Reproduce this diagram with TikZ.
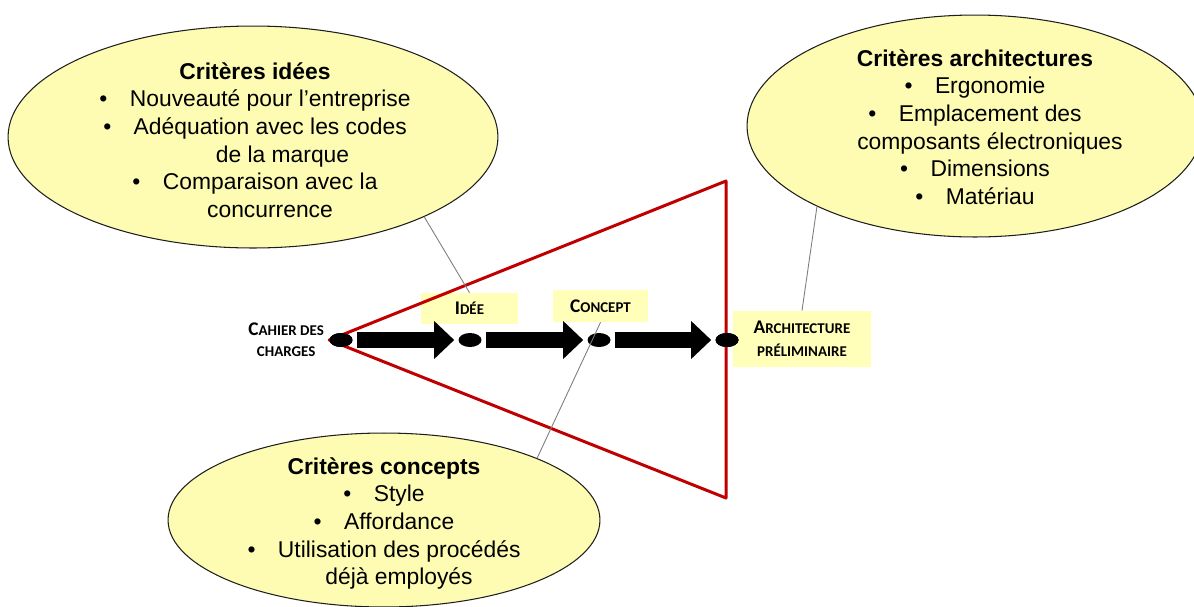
\documentclass[tikz,border=0pt]{standalone}
\usepackage{fontspec}
\setmainfont{Liberation Sans}
\newfontfamily\lblfont{Carlito}
\usepackage{xcolor}
\usepackage{tikz}
\usetikzlibrary{shapes.geometric, arrows.meta, positioning}
\definecolor{myred}{RGB}{192,0,0}
\definecolor{mydark}{RGB}{30,30,30}
\definecolor{mygray}{RGB}{125,125,125}
\definecolor{hdryellow}{RGB}{253,252,178}
\definecolor{boxyellow}{RGB}{255,255,186}
\newcommand{\itm}{\textbullet\hspace{0.45cm}}
\newcommand{\scC}[1]{{\fontsize{11}{13}\selectfont #1}}
\newcommand{\scS}[1]{{\fontsize{8.5}{13}\selectfont #1}}
\tikzset{
  critere/.style={ellipse, draw=mydark, fill=hdryellow, line width=0.6pt,
    inner sep=0pt},
  crittext/.style={align=center, inner sep=0pt,
    font=\fontsize{13}{15.7}\selectfont},
  etape/.style={rectangle, fill=boxyellow, inner sep=0pt, align=center,
    font=\lblfont\bfseries},
  jalontext/.style={inner sep=0pt, align=center, font=\lblfont\bfseries},
  jalon/.style={ellipse, fill=black, minimum width=0.46cm,
    minimum height=0.28cm, inner sep=0pt},
  bigarrow/.style={line width=0.32cm,
    -{Triangle[length=0.4cm, width=0.76cm, line width=0pt]},
    shorten <=0.08cm, shorten >=0.08cm},
  callout/.style={draw=mygray, line width=0.5pt},
  entonnoir/.style={draw=myred, line width=1.7pt, line join=round}
}

\begin{document}
\begin{tikzpicture}[x=0.02cm, y=-0.02cm]
  \useasboundingbox (0,0) rectangle (1194,606);

  % Criteria ellipses
  \node[critere, minimum width=9.8cm, minimum height=4.44cm] (eIdees) at (253,137) {};
  \node[crittext] (tIdees) at (255,140) {\textbf{Critères idées}\\
    \itm Nouveauté pour l'entreprise\\
    \itm Adéquation avec les codes\\
    \hspace*{1.1cm}de la marque\\
    \itm Comparaison avec la\\
    \hspace*{0.6cm}concurrence};

  \node[critere, minimum width=9.12cm, minimum height=4.44cm] (eArch) at (975,126) {};
  \node[crittext] (tArch) at (975,127) {\textbf{Critères architectures}\\
    \itm Ergonomie\\
    \itm Emplacement des\\
    \hspace*{0.6cm}composants électroniques\\
    \itm Dimensions\\
    \itm Matériau};

  \node[critere, minimum width=8.64cm, minimum height=3.48cm] (eConcepts) at (384,520) {};
  \node[crittext] (tConcepts) at (384,523.5) {\textbf{Critères concepts}\\
    \itm Style\\
    \itm Affordance\\
    \itm Utilisation des procédés\\
    \hspace*{0.6cm}déjà employés};

  % Stage labels
  \node[etape, minimum width=1.94cm, minimum height=0.62cm] (bIdee) at (469.5,308.5) {\scC{I}\scS{DÉE}};
  \node[etape, minimum width=1.9cm, minimum height=0.64cm] (bConcept) at (600.5,306) {\scC{C}\scS{ONCEPT}};
  \node[etape, minimum width=2.76cm, minimum height=1.12cm] (bArch) at (802,339) {\scC{A}\scS{RCHITECTURE}\\[1pt] \scS{PRÉLIMINAIRE}};

  % Milestones
  \node[jalon] (dCdc) at (341,340) {};
  \node[jalon] (dIdee) at (470,340) {};
  \node[jalon] (dConcept) at (599,340) {};
  \node[jalon] (dArch) at (727,340) {};
  \node[jalontext, left=0.1cm of dCdc] (lCdc) {\scC{C}\scS{AHIER DES}\\ \scS{CHARGES}};

  % Funnel
  \draw[entonnoir] (dCdc.west) -- (726,181) -- (726,498) -- cycle;
  \node[jalon] at (dCdc) {};
  \node[jalon] at (dArch) {};

  % Big arrows
  \draw[bigarrow] (dCdc) -- (dIdee);
  \draw[bigarrow] (dIdee) -- (dConcept);
  \draw[bigarrow] (dConcept) -- (dArch);

  % Callout lines
  \draw[callout] (eIdees.-25) -- (bIdee.north);
  \draw[callout] (eArch.207) -- (bArch.north);
  \draw[callout] (eConcepts.22) -- (bConcept.south);
\end{tikzpicture}
\end{document}
